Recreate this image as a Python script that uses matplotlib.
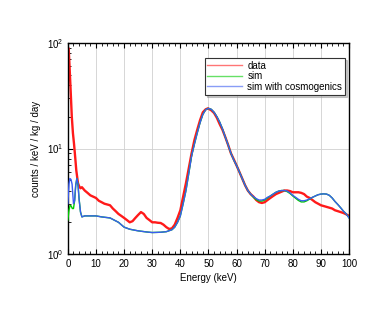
import numpy as np
import matplotlib
matplotlib.use('Agg')
import matplotlib.pyplot as plt
from matplotlib.ticker import LogLocator, MultipleLocator

plt.rc('font', family=['Liberation Sans', 'DejaVu Sans'], size=7)

# data (measured spectrum)
dataE = [0.3, 0.6, 1.0, 1.4, 1.8, 2.2, 2.6, 3.0, 3.6, 4.0, 4.5, 5, 6, 7, 8, 9, 10, 11, 12, 13, 14, 15,
         16, 17, 18, 19, 20, 21, 22, 23, 24, 25, 26, 27, 28, 29, 30, 31, 32, 33, 34, 35, 36, 37, 38,
         39, 40, 41, 42, 43, 44, 45, 46, 47, 48, 49, 49.8, 51, 52, 53, 54, 55, 56, 57, 58, 59, 60,
         61, 62, 63, 64, 65, 66, 67, 68, 69, 70, 71, 72, 73, 74, 75, 76, 77, 78, 79, 80, 81, 82, 83,
         84, 85, 86, 87, 88, 89, 90, 91, 92, 93, 94, 95, 96, 97, 98, 99, 100]
dataV = [88, 60, 35, 20, 14, 11, 8.3, 6.2, 4.7, 4.4, 4.2, 4.3, 4.0, 3.8, 3.6, 3.5, 3.4, 3.2, 3.1, 3.0, 2.95, 2.9,
         2.7, 2.55, 2.4, 2.3, 2.2, 2.1, 2.0, 2.05, 2.2, 2.35, 2.5, 2.4, 2.2, 2.1, 2.0, 2.0, 1.98, 1.97, 1.9, 1.8, 1.73, 1.75, 1.9,
         2.2, 2.6, 3.5, 4.7, 6.5, 9.0, 12, 15, 18.5, 22, 23.5, 24, 23, 21.7, 19.5, 17, 15, 12.8, 10.8, 9.0, 7.9, 6.9,
         6.0, 5.2, 4.5, 4.0, 3.7, 3.5, 3.25, 3.1, 3.05, 3.1, 3.25, 3.4, 3.55, 3.7, 3.8, 3.9, 4.0, 4.0, 3.95, 3.85, 3.85, 3.85, 3.8,
         3.7, 3.5, 3.4, 3.25, 3.1, 3.0, 2.9, 2.85, 2.8, 2.75, 2.7, 2.6, 2.55, 2.5, 2.45, 2.38, 2.3]

# simulation
simE = [0.0, 0.4, 0.8, 1.2, 1.6, 2.0, 2.4, 2.8, 3.2, 3.6, 4.0, 4.5, 5, 6, 8, 10, 12, 15, 18, 20, 22, 25,
        28, 30, 33, 35, 37, 38, 39, 40, 41, 42, 43, 44, 45, 46, 47, 48, 49, 50, 51, 52, 53, 54, 55, 56,
        57, 58, 59, 60, 61, 62, 63, 64, 65, 66, 67, 68, 69, 70, 71, 72, 73, 74, 75, 76, 77, 78, 79, 80,
        81, 82, 83, 84, 85, 86, 87, 88, 89, 90, 91, 92, 93, 94, 95, 96, 97, 98, 99, 100]
simV = [2.1, 2.6, 2.9, 2.85, 2.7, 2.7, 3.2, 4.5, 5.2, 4.6, 3.3, 2.5, 2.25, 2.3, 2.3, 2.3, 2.25, 2.2, 2.0, 1.8, 1.72, 1.66,
        1.62, 1.6, 1.61, 1.63, 1.7, 1.8, 2.0, 2.3, 3.0, 4.0, 5.8, 8.5, 11, 14, 17.5, 21, 23.3, 24, 23.5, 22, 20, 17.8, 15.3, 12.8,
        10.8, 9.0, 7.8, 6.9, 6.0, 5.2, 4.5, 4.0, 3.7, 3.45, 3.28, 3.18, 3.18, 3.25, 3.4, 3.55, 3.7, 3.85, 3.95, 4.0, 4.0, 3.9, 3.75, 3.55,
        3.38, 3.22, 3.12, 3.12, 3.2, 3.32, 3.45, 3.55, 3.65, 3.7, 3.72, 3.7, 3.6, 3.4, 3.15, 2.95, 2.75, 2.55, 2.4, 2.2]

# simulation with cosmogenics
cosE = [0.0, 0.4, 0.7, 1.1, 1.5, 2.0, 2.4, 2.8, 3.2, 3.6, 4.0, 4.5, 5, 6, 8, 10, 12, 15, 18, 20, 22, 25,
        28, 30, 33, 35, 37, 38, 39, 40, 41, 42, 43, 44, 45, 46, 47, 48, 49, 50, 51, 52, 53, 54, 55, 56,
        57, 58, 59, 60, 61, 62, 63, 64, 65, 66, 67, 68, 69, 70, 71, 72, 73, 74, 75, 76, 77, 78, 79, 80,
        81, 82, 83, 84, 85, 86, 87, 88, 89, 90, 91, 92, 93, 94, 95, 96, 97, 98, 99, 100]
cosV = [3.0, 4.6, 5.2, 5.1, 4.6, 3.0, 3.2, 4.5, 5.2, 4.6, 3.3, 2.5, 2.25, 2.3, 2.3, 2.3, 2.25, 2.2, 2.0, 1.8, 1.72, 1.66,
        1.62, 1.6, 1.61, 1.63, 1.7, 1.8, 2.0, 2.3, 3.0, 4.0, 5.8, 8.5, 11, 14, 17.5, 21, 23.3, 24, 23.5, 22, 20, 17.8, 15.3, 12.8,
        10.8, 9.0, 7.8, 6.9, 6.0, 5.2, 4.5, 4.0, 3.7, 3.5, 3.35, 3.25, 3.25, 3.3, 3.45, 3.55, 3.7, 3.85, 3.95, 4.0, 4.0, 3.95, 3.8, 3.6,
        3.45, 3.3, 3.2, 3.2, 3.25, 3.35, 3.45, 3.55, 3.65, 3.7, 3.72, 3.7, 3.6, 3.4, 3.15, 2.95, 2.75, 2.55, 2.4, 2.2]

fig = plt.figure(figsize=(3.9, 3.11), dpi=100)
ax = fig.add_axes([0.174, 0.183, 0.721, 0.679])

ax.plot(dataE, dataV, color='#ff1a1a', linewidth=1.7, label='data', zorder=2)
ax.plot(simE, simV, color='#00cc00', linewidth=1.0, label='sim', zorder=3)
ax.plot(cosE, cosV, color='#3a5cf0', linewidth=1.0, label='sim with cosmogenics', zorder=4)

ax.set_yscale('log')
ax.set_xlim(0, 100)
ax.set_ylim(1, 100)
ax.xaxis.set_major_locator(MultipleLocator(10))
ax.xaxis.set_minor_locator(MultipleLocator(2))
ax.yaxis.set_minor_locator(LogLocator(base=10, subs=np.arange(2, 10)))
ax.tick_params(which='both', direction='in', top=True, right=False, labelsize=7)
ax.tick_params(which='major', length=3.5, width=0.8)
ax.tick_params(which='minor', length=2, width=0.6)
ax.grid(True, which='major', color='#d0d0d0', linewidth=0.6)
ax.set_axisbelow(True)
for s in ax.spines.values():
    s.set_linewidth(1.0)

ax.set_xlabel('Energy (keV)', fontsize=7, labelpad=3)
ax.set_ylabel('counts / keV / kg / day', fontsize=7, labelpad=4)

leg = ax.legend(loc='upper right', bbox_to_anchor=(0.986, 0.93), borderaxespad=0, fontsize=7,
                frameon=True, fancybox=False, shadow={'ox': 1.5, 'oy': -1.5, 'color': '#999999'},
                handlelength=3.6, borderpad=0.3, labelspacing=0.05, handletextpad=0.5)
leg.get_frame().set_edgecolor('#333333')
leg.get_frame().set_linewidth(0.8)
for l in leg.get_lines():
    l.set_linewidth(1.0)
    l.set_alpha(0.6)

plt.savefig('out.png', dpi=100)
